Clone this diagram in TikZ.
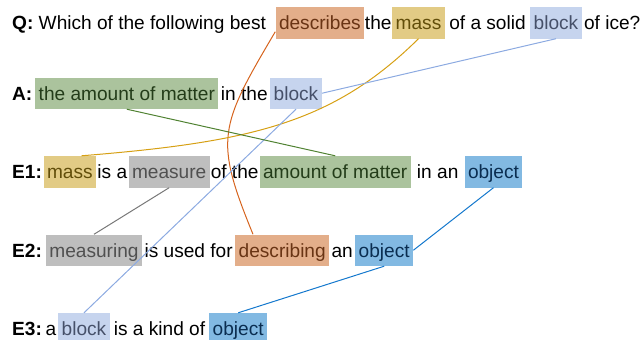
\documentclass[tikz,border=0pt]{standalone}
\usepackage{fontspec}
\setmainfont{Liberation Sans}
\usetikzlibrary{calc}
\definecolor{fOr}{RGB}{227,174,138}\definecolor{tOr}{RGB}{105,52,20}
\definecolor{fGo}{RGB}{226,203,133}\definecolor{tGo}{RGB}{98,78,10}
\definecolor{fLb}{RGB}{198,212,238}\definecolor{tLb}{RGB}{70,80,105}
\definecolor{fGr}{RGB}{171,195,157}\definecolor{tGr}{RGB}{35,60,25}
\definecolor{fGy}{RGB}{190,190,190}\definecolor{tGy}{RGB}{80,80,80}
\definecolor{fOb}{RGB}{130,185,226}\definecolor{tOb}{RGB}{10,45,80}
\definecolor{lOr}{RGB}{214,100,30}
\definecolor{lGo}{RGB}{214,160,20}
\definecolor{lLb}{RGB}{140,170,225}
\definecolor{lGr}{RGB}{80,130,50}
\definecolor{lGy}{RGB}{120,120,120}
\definecolor{lOb}{RGB}{20,120,205}
\def\gh{1.9pt}
\tikzset{
  w/.style={inner xsep=0pt, inner ysep=0pt, text height=22.5pt, text depth=9pt,
    anchor=base west, font=\fontsize{19.1}{23}\selectfont},
  mid/.style={w, anchor=base},
  hl/.style={w, inner xsep=3.5pt},
  hOr/.style={hl, fill=fOr, text=tOr},
  hGo/.style={hl, fill=fGo, text=tGo},
  hLb/.style={hl, fill=fLb, text=tLb},
  hGr/.style={hl, fill=fGr, text=tGr},
  hGy/.style={hl, fill=fGy, text=tGy},
  hOb/.style={hl, fill=fOb, text=tOb},
  link/.style={line width=1pt},
}
\begin{document}
\begin{tikzpicture}[x=1pt, y=-1pt]
\useasboundingbox (0,0) rectangle (641,340);
% Q line
\node[w] (q0) at (12,29.5) {\textbf{Q:} Which of the following best};
\node[hOr] (qdesc) at (275.3,29.5) {describes};
\node[hGo] (qmass) at (392,29.5) {mass};
\node[hLb] (qblock) at (530,29.5) {block};
\node[mid] (q1) at ($(qdesc.base east)!0.5!(qmass.base west)$) {the};
\node[mid] (q2) at ($(qmass.base east)!0.5!(qblock.base west)$) {of a solid};
\node[w] (q3) at ([xshift=\gh]qblock.base east) {of ice?};
% A line
\node[w] (a0) at (12,100) {\textbf{A:}};
\node[hGr] (aamount) at (35,100) {the amount of matter};
\node[hLb] (ablock) at (270,100) {block};
\node[mid] (a1) at ($(aamount.base east)!0.5!(ablock.base west)$) {in the};
% E1 line
\node[w] (e10) at (12,178.5) {\textbf{E1:}};
\node[hGo] (e1mass) at (43.3,178.5) {mass};
\node[hGy] (e1measure) at (128.3,178.5) {measure};
\node[hGr] (e1amount) at (259.3,178.5) {amount of matter};
\node[hOb] (e1object) at (464.3,178.5) {object};
\node[mid] (e11) at ($(e1mass.base east)!0.5!(e1measure.base west)$) {is a};
\node[mid] (e12) at ($(e1measure.base east)!0.5!(e1amount.base west)$) {of the};
\node[mid] (e13) at ($(e1amount.base east)!0.5!(e1object.base west)$) {in an};
% E2 line
\node[w] (e20) at (12,257) {\textbf{E2:}};
\node[hGy] (e2measuring) at (45.7,257) {measuring};
\node[hOr] (e2desc) at (235,257) {describing};
\node[hOb] (e2object) at (355,257) {object};
\node[mid] (e21) at ($(e2measuring.base east)!0.5!(e2desc.base west)$) {is used for};
\node[mid] (e22) at ($(e2desc.base east)!0.5!(e2object.base west)$) {an};
% E3 line
\node[w] (e30) at (12,335.5) {\textbf{E3:}};
\node[w] (e3a) at (45.5,335.5) {a};
\node[hLb] (e3block) at (58,335.5) {block};
\node[hOb] (e3object) at (209,335.5) {object};
\node[mid] (e31) at ($(e3block.base east)!0.5!(e3object.base west)$) {is a kind of};
% connectors
\draw[link, lOr] ([yshift=7pt]qdesc.south west) .. controls (219,127) and (214,139) .. ([xshift=18pt]e2desc.north west);
\draw[link, lGo] (qmass.south) .. controls (333,123) and (252,142) .. ([xshift=11.7pt]e1mass.north);
\draw[link, lLb] (qblock.south) -- (ablock.east);
\draw[link, lLb] (ablock.south) -- (e3block.north);
\draw[link, lGr] (aamount.south) -- (e1amount.north);
\draw[link, lGy] (e1measure.south) -- (e2measuring.north);
\draw[link, lOb] (e1object.south) -- (e2object.east);
\draw[link, lOb] (e2object.south) -- (e3object.north);
\end{tikzpicture}
\end{document}
